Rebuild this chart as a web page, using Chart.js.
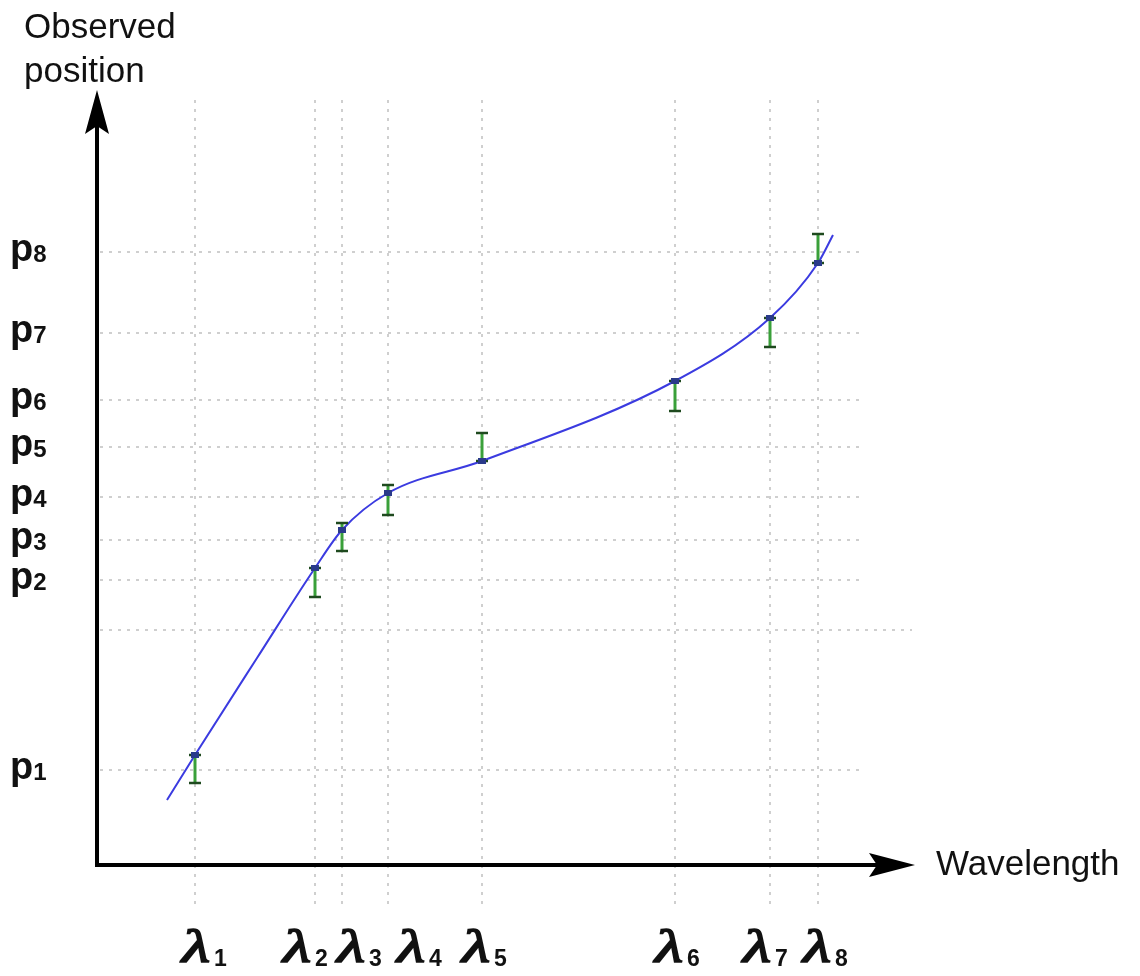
<!DOCTYPE html>
<html><head><meta charset="utf-8">
<script src="https://cdn.jsdelivr.net/npm/chart.js@4/dist/chart.umd.min.js"></script>
<style>html,body{margin:0;padding:0;background:#fff}#wrap{width:1140px;height:976px}</style>
</head><body><div id="wrap"><canvas id="c" width="1140" height="976"></canvas></div>
<script>
// Wavelength positions (arbitrary units) and labels
const lambdaValues = [98, 218, 245, 291, 385, 578, 673, 721];
const lambdaLabels = ['1','2','3','4','5','6','7','8'];
// Observed positions (arbitrary units) and labels
const pValues = [95, 285, 325, 368, 418, 465, 532, 613];
const pLabels = ['1','2','3','4','5','6','7','8'];
const extraGridY = [235];
// Fitted curve samples
const curveX = [70, 98, 160, 218, 245, 291, 385, 578, 673, 721, 736];
const curveY = [65, 110, 207, 297, 335, 372, 404, 484, 547, 602, 630];
// Error bars: low / high per wavelength
const errLow  = [82, 268, 314, 350, 404, 454, 518, 602];
const errHigh = [110, 297, 342, 380, 432, 484, 547, 631];
// Point on curve at each wavelength
const markY = [110, 297, 335, 372, 404, 484, 547, 602];

// label placement nudges (px, layout only)
const lambdaLabelNudge = [-13, -32, -5, 9, -20, -20, -27, -15];

const curveData = curveX.map((x,i)=>({x, y: curveY[i]}));

const overlay = {
  id:'overlay',
  beforeDatasetsDraw(chart){
    const ctx = chart.ctx, xs = chart.scales.x, ys = chart.scales.y;
    ctx.save();
    ctx.strokeStyle = 'rgba(195,195,195,0.8)';
    ctx.lineWidth = 2;
    ctx.setLineDash([3,6]);
    lambdaValues.forEach(v=>{
      const px = Math.round(xs.getPixelForValue(v));
      ctx.beginPath(); ctx.moveTo(px, 100); ctx.lineTo(px, 905); ctx.stroke();
    });
    pValues.forEach(v=>{
      const py = Math.round(ys.getPixelForValue(v));
      ctx.beginPath(); ctx.moveTo(100, py); ctx.lineTo(865, py); ctx.stroke();
    });
    extraGridY.forEach(v=>{
      const py = Math.round(ys.getPixelForValue(v));
      ctx.beginPath(); ctx.moveTo(100, py); ctx.lineTo(912, py); ctx.stroke();
    });
    ctx.restore();
  },
  afterDatasetsDraw(chart){
    const ctx = chart.ctx, xs = chart.scales.x, ys = chart.scales.y;
    ctx.save();
    // error bars
    lambdaValues.forEach((v,i)=>{
      const px = xs.getPixelForValue(v);
      const y1 = ys.getPixelForValue(errLow[i]), y2 = ys.getPixelForValue(errHigh[i]);
      ctx.strokeStyle = '#3aa03a'; ctx.lineWidth = 3;
      ctx.beginPath(); ctx.moveTo(px, y1); ctx.lineTo(px, y2); ctx.stroke();
      ctx.strokeStyle = '#1f4a1f'; ctx.lineWidth = 2.5;
      [y1,y2].forEach(yy=>{ctx.beginPath(); ctx.moveTo(px-6, yy); ctx.lineTo(px+6, yy); ctx.stroke();});
      const my = ys.getPixelForValue(markY[i]);
      ctx.fillStyle = '#2a3a8a';
      ctx.fillRect(px-4, my-3, 8, 6);
    });
    // axes
    const ox = xs.getPixelForValue(0), oy = ys.getPixelForValue(0);
    const topY = ys.getPixelForValue(ys.max), rightX = xs.getPixelForValue(xs.max);
    ctx.strokeStyle = '#000'; ctx.fillStyle = '#000'; ctx.lineWidth = 4; ctx.setLineDash([]);
    ctx.beginPath(); ctx.moveTo(ox, oy+2); ctx.lineTo(ox, topY+20); ctx.stroke();
    ctx.beginPath(); ctx.moveTo(ox-2, oy); ctx.lineTo(rightX-20, oy); ctx.stroke();
    // arrow heads
    ctx.beginPath();
    ctx.moveTo(ox, topY); ctx.lineTo(ox+12, topY+44); ctx.lineTo(ox, topY+36); ctx.lineTo(ox-12, topY+44); ctx.closePath(); ctx.fill();
    ctx.beginPath();
    ctx.moveTo(rightX, oy); ctx.lineTo(rightX-46, oy-12); ctx.lineTo(rightX-38, oy); ctx.lineTo(rightX-46, oy+12); ctx.closePath(); ctx.fill();
    // axis titles
    ctx.fillStyle = '#111';
    ctx.font = '35px "Liberation Sans", Arial, sans-serif';
    ctx.textBaseline = 'alphabetic'; ctx.textAlign = 'left';
    ctx.fillText('Observed', 24, 38);
    ctx.fillText('position', 24, 82);
    ctx.fillText('Wavelength', 936, 875);
    // p labels
    pValues.forEach((v,i)=>{
      const py = ys.getPixelForValue(v);
      ctx.font = 'bold 38px "Liberation Sans", Arial, sans-serif';
      ctx.fillText('p', 10, py+9);
      const w = ctx.measureText('p').width;
      ctx.font = 'bold 24px "Liberation Sans", Arial, sans-serif';
      ctx.fillText(pLabels[i], 10+w, py+10);
    });
    // lambda labels
    const lamFont = 'italic 46px "Liberation Serif", "DejaVu Serif", serif';
    const subFont = 'bold 23px "Liberation Sans", Arial, sans-serif';
    lambdaValues.forEach((v,i)=>{
      const px = xs.getPixelForValue(v);
      const start = px + lambdaLabelNudge[i];
      ctx.font = lamFont;
      const w1 = ctx.measureText('λ').width;
      const sx = 28 / w1;
      ctx.save();
      ctx.translate(start, 962);
      ctx.scale(sx, 1);
      ctx.lineWidth = 1.6; ctx.strokeStyle = '#111';
      ctx.fillText('λ', 0, 0);
      ctx.strokeText('λ', 0, 0);
      ctx.restore();
      ctx.font = subFont;
      ctx.fillText(lambdaLabels[i], start + 32, 966);
    });
    ctx.restore();
  }
};

new Chart(document.getElementById('c'), {
  type:'scatter',
  data:{datasets:[{
    data: curveData, showLine:true, borderColor:'#3b3be0', borderWidth:2,
    pointRadius:0, cubicInterpolationMode:'monotone', fill:false
  }]},
  options:{
    responsive:false, animation:false,
    layout:{padding:{left:97, right:225, top:90, bottom:111}},
    plugins:{legend:{display:false}, tooltip:{enabled:false}},
    scales:{
      x:{type:'linear', min:0, max:818, display:false},
      y:{type:'linear', min:0, max:775, display:false}
    }
  },
  plugins:[overlay]
});
</script></body></html>
